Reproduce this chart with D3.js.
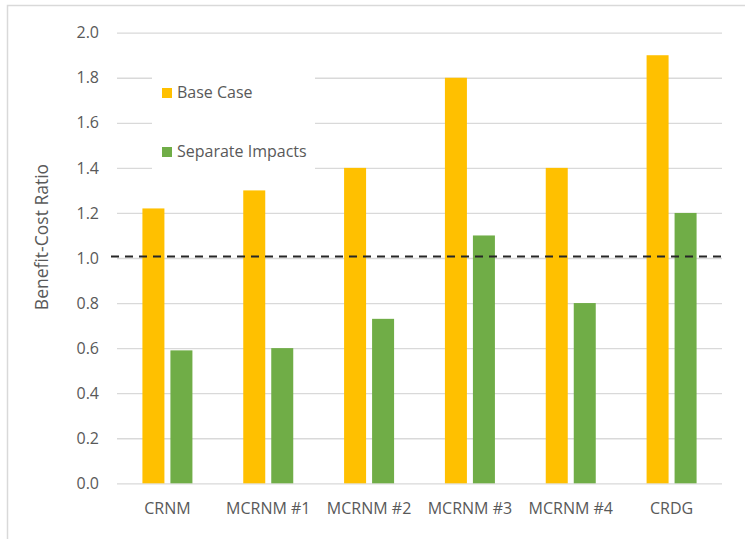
<!DOCTYPE html>
<html>
<head>
<meta charset="utf-8">
<script src="https://cdn.jsdelivr.net/npm/d3@7"></script>
<style>
  html, body { margin: 0; padding: 0; background: #fff; }
  svg { display: block; }
  text { font-family: "Open Sans", "Noto Sans", sans-serif; fill: #595959; }
</style>
</head>
<body>
<svg id="chart" width="745" height="539"></svg>
<script>
const categories = ["CRNM", "MCRNM #1", "MCRNM #2", "MCRNM #3", "MCRNM #4", "CRDG"];
const seriesNames = ["Base Case", "Separate Impacts"];
const baseCase = [1.22, 1.30, 1.40, 1.80, 1.40, 1.90];
const separateImpacts = [0.59, 0.60, 0.73, 1.10, 0.80, 1.20];
const yTicks = [0, 0.2, 0.4, 0.6, 0.8, 1.0, 1.2, 1.4, 1.6, 1.8, 2.0];
const referenceLine = 1.0;
const yTitle = "Benefit-Cost Ratio";

const colors = ["#FFC000", "#70AD47"];
const svg = d3.select("#chart");

// outer frame
svg.append("rect").attr("x", 7.5).attr("y", 5.5).attr("width", 760).attr("height", 560)
  .attr("fill", "none").attr("stroke", "#D9D9D9").attr("stroke-width", 1.5);

const plotL = 117, plotR = 722, plotT = 32.7, plotB = 483.3;
const y = d3.scaleLinear().domain([0, 2]).range([plotB, plotT]);
const x = d3.scaleBand().domain(categories).range([plotL, plotR]).paddingInner(0).paddingOuter(0);
const barW = 22, gap = 6;
const xs = d3.scaleBand().domain(seriesNames).range([0, barW * 2 + gap]).paddingInner(gap / (barW + gap));

// gridlines
const yAxis = d3.axisLeft(y).tickValues(yTicks).tickFormat(d3.format(".1f")).tickSize(-(plotR - plotL)).tickPadding(18);
const gAxis = svg.append("g").attr("transform", `translate(${plotL},0)`).call(yAxis);
gAxis.select(".domain").remove();
gAxis.selectAll(".tick line").attr("stroke", "#D9D9D9").attr("stroke-width", 1.3);
gAxis.selectAll(".tick text").attr("font-size", 16).attr("fill", "#595959")
  .attr("font-family", "'Open Sans', sans-serif");

// legend background (covers gridlines)
svg.append("rect").attr("x", 152).attr("y", 55).attr("width", 163).attr("height", 130).attr("fill", "#fff");

// bars
const data = categories.map((c, i) => ({ cat: c, vals: [baseCase[i], separateImpacts[i]] }));
const groups = svg.append("g").selectAll("g").data(data).join("g")
  .attr("transform", d => `translate(${x(d.cat) + x.bandwidth() / 2 - (barW * 2 + gap) / 2},0)`);
groups.selectAll("rect").data(d => d.vals.map((v, j) => ({ v, s: seriesNames[j], j })))
  .join("rect")
  .attr("x", d => xs(d.s))
  .attr("width", xs.bandwidth())
  .attr("y", d => y(d.v))
  .attr("height", d => y(0) - y(d.v))
  .attr("fill", d => colors[d.j]);

// dashed reference line
svg.append("line").attr("x1", plotL - 6).attr("x2", plotR + 5)
  .attr("y1", y(referenceLine) - 1.5).attr("y2", y(referenceLine) - 1.5)
  .attr("stroke", "#262626").attr("stroke-width", 2).attr("stroke-dasharray", "8,6");

// x category labels
svg.append("g").selectAll("text").data(categories).join("text")
  .attr("x", d => x(d) + x.bandwidth() / 2)
  .attr("y", 514)
  .attr("text-anchor", "middle")
  .attr("font-size", 16)
  .text(d => d);

// legend
const legendPos = [98, 157];
const lg = svg.append("g").selectAll("g").data(seriesNames).join("g");
lg.append("rect").attr("x", 162).attr("y", (d, i) => legendPos[i] - 10).attr("width", 10).attr("height", 10)
  .attr("fill", (d, i) => colors[i]);
lg.append("text").attr("x", 177).attr("y", (d, i) => legendPos[i]).attr("font-size", 16).text(d => d);

// y title
svg.append("text").attr("transform", "translate(48,237) rotate(-90)")
  .attr("text-anchor", "middle").attr("font-size", 17.5).text(yTitle);
</script>
</body>
</html>
